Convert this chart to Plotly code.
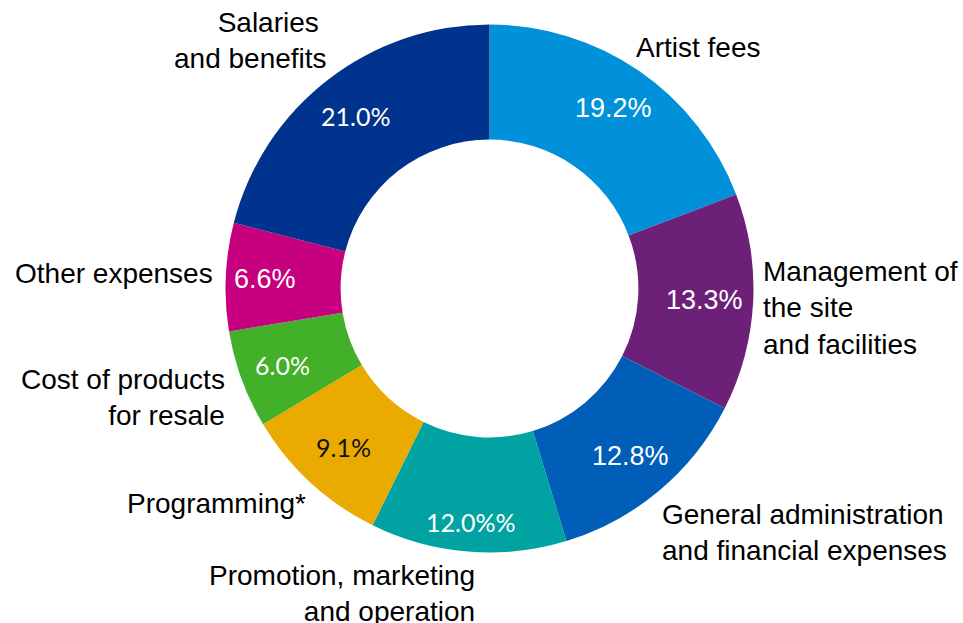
import math
import plotly.graph_objects as go

# ---------------- data ----------------
categories = [
    "Artist fees",
    "Management of the site and facilities",
    "General administration and financial expenses",
    "Promotion, marketing and operation",
    "Programming*",
    "Cost of products for resale",
    "Other expenses",
    "Salaries and benefits",
]
category_labels = [
    "Artist fees",
    "Management of<br>the site<br>and facilities",
    "General administration<br>and financial expenses",
    "Promotion, marketing<br>and operation",
    "Programming*",
    "Cost of products<br>for resale",
    "Other expenses",
    "Salaries <br>and benefits",
]
values = [19.2, 13.3, 12.8, 12.0, 9.1, 6.0, 6.6, 21.0]
value_labels = ["19.2%", "13.3%", "12.8%", "12.0%%", "9.1%", "6.0%", "6.6%", "21.0%"]

# ---------------- style ----------------
colors = ["#0091DA", "#6D2077", "#005EB8", "#00A3A1", "#EAAA00", "#43B02A", "#C6007E", "#00338D"]
pct_fonts = ["Liberation Sans", "Liberation Sans", "Liberation Sans", "Lato",
             "Lato", "Lato", "Liberation Sans", "Lato"]
pct_sizes = [27, 27, 27, 25, 25, 25, 27, 25]
pct_colors = ["white", "white", "white", "white", "#111111", "white", "white", "white"]
pct_radius = [219, 215, 219, 234, 216, 221, 225, 218]   # px from centre

W, H = 963, 623
CX, CY, R = 489.5, 288.5, 264.0   # pie centre and radius in px
HOLE = 0.564

# label placement: side (left/right anchor) and pixel nudges
label_side = ["left", "left", "left", "right", "right", "right", "right", "right"]
label_shift = [(-23, -3), (-24, -4), (-19, -17), (12, -10), (19, 2), (15, -7), (21, 2), (21, 14)]
LABEL_R = R * 1.12

fig = go.Figure()
fig.add_trace(go.Pie(
    labels=categories,
    values=values,
    textinfo="none",
    sort=False,
    direction="clockwise",
    rotation=0,
    hole=HOLE,
    marker=dict(colors=colors, line=dict(width=0)),
    domain=dict(x=[(CX - R) / W, (CX + R) / W], y=[1 - (CY + R) / H, 1 - (CY - R) / H]),
    showlegend=False,
    hoverinfo="label+value",
))

total = sum(values)
cum = 0.0
annotations = []
for i, v in enumerate(values):
    mid = (cum + v / 2) / total
    cum += v
    ang = 2 * math.pi * mid
    s, c = math.sin(ang), math.cos(ang)
    # outer category label
    px = CX + LABEL_R * s
    py = CY - LABEL_R * c
    dx, dy = label_shift[i]
    annotations.append(dict(
        x=px / W, y=1 - py / H, xref="paper", yref="paper",
        text=category_labels[i], showarrow=False,
        xanchor=label_side[i], yanchor="middle", align=label_side[i],
        xshift=dx, yshift=dy,
        font=dict(family="Liberation Sans, Arial, sans-serif", size=28, color="#000000"),
    ))
    # percentage inside the ring
    qx = CX + pct_radius[i] * s
    qy = CY - pct_radius[i] * c
    annotations.append(dict(
        x=qx / W, y=1 - qy / H, xref="paper", yref="paper",
        text=value_labels[i], showarrow=False,
        xanchor="center", yanchor="middle",
        font=dict(family=pct_fonts[i], size=pct_sizes[i], color=pct_colors[i]),
    ))

fig.update_layout(
    width=W, height=H,
    margin=dict(l=0, r=0, t=0, b=0),
    paper_bgcolor="white", plot_bgcolor="white",
    annotations=annotations,
)

fig.write_html("out.html", config={"displayModeBar": False},
               post_script="document.body.style.margin='0';")
